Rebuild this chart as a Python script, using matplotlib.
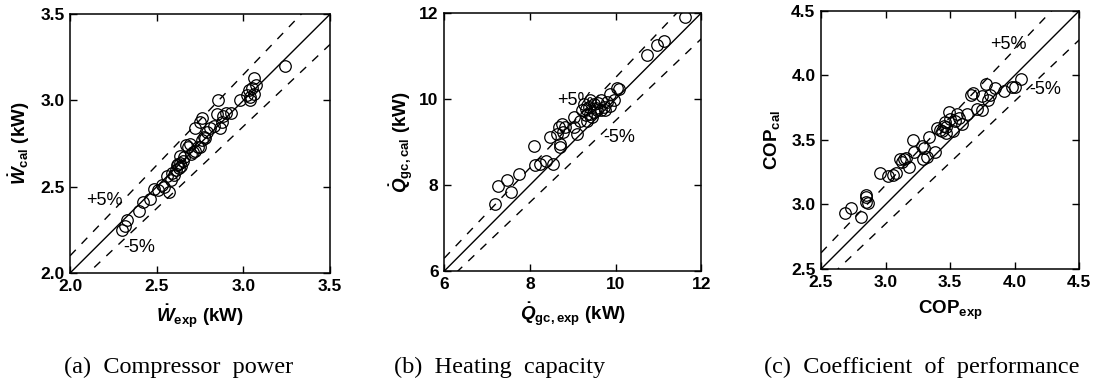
import matplotlib as mpl
mpl.use('Agg')
import matplotlib.pyplot as plt

plt.rcParams['font.family'] = ['Liberation Sans', 'DejaVu Sans']
plt.rcParams['mathtext.fontset'] = 'custom'
plt.rcParams['mathtext.rm'] = 'Liberation Sans:bold'
plt.rcParams['mathtext.it'] = 'Liberation Sans:bold:italic'
plt.rcParams['mathtext.bf'] = 'Liberation Sans:bold'

# (a) compressor power, kW
w_exp = [2.30, 2.32, 2.33, 2.40, 2.42, 2.46, 2.485, 2.51, 2.53, 2.54, 2.57,
         2.56, 2.58, 2.59, 2.60, 2.61, 2.615, 2.63, 2.635, 2.635, 2.65, 2.66,
         2.67, 2.68, 2.69, 2.70, 2.71, 2.72, 2.74, 2.75, 2.76, 2.76, 2.77,
         2.75, 2.79, 2.81, 2.83, 2.855, 2.846, 2.875, 2.865, 2.885, 2.90,
         2.93, 2.98, 3.02, 3.03, 3.04, 3.05, 3.06, 3.07, 3.06, 3.04, 3.24,
         2.62, 2.64, 2.72, 2.78]
w_cal = [2.25, 2.27, 2.305, 2.36, 2.41, 2.43, 2.49, 2.48, 2.51, 2.50, 2.47,
         2.56, 2.54, 2.58, 2.57, 2.60, 2.625, 2.61, 2.635, 2.68, 2.65, 2.67,
         2.74, 2.73, 2.745, 2.69, 2.70, 2.84, 2.73, 2.875, 2.77, 2.90, 2.79,
         2.73, 2.82, 2.84, 2.85, 3.00, 2.92, 2.875, 2.84, 2.91, 2.925,
         2.925, 3.00, 3.03, 3.06, 3.02, 3.07, 3.13, 3.09, 3.04, 3.00, 3.20,
         2.63, 2.62, 2.71, 2.78]

# (b) heating capacity, kW
q_exp = [7.19, 7.25, 7.47, 7.55, 7.74, 8.09, 8.11, 8.24, 8.38, 8.54, 8.48,
         8.63, 8.67, 8.75, 8.70, 8.71, 8.78, 8.83, 9.02, 9.09, 9.04, 9.18,
         9.22, 9.30, 9.37, 9.41, 9.49, 9.57, 9.65, 9.73, 9.80, 9.88, 9.96,
         9.88, 10.04, 10.08, 9.34, 9.45, 9.65, 9.76, 9.26, 9.41, 9.55, 9.60,
         9.30, 9.50, 10.74, 10.96, 11.12, 11.61]
q_cal = [7.55, 7.97, 8.11, 7.84, 8.26, 8.92, 8.46, 8.50, 8.57, 8.50, 9.12,
         9.19, 9.35, 9.41, 8.95, 8.88, 9.23, 9.35, 9.58, 9.19, 9.35, 9.50,
         9.74, 9.62, 9.82, 9.66, 9.89, 9.74, 9.97, 9.81, 9.93, 9.85, 9.97,
         10.12, 10.26, 10.24, 9.50, 9.58, 9.74, 9.74, 9.89, 9.97, 9.80, 9.90,
         9.78, 9.70, 11.02, 11.25, 11.36, 11.91]

# (c) coefficient of performance
cop_exp = [2.686, 2.73, 2.81, 2.85, 2.85, 2.86, 2.85, 2.96, 3.02, 3.06, 3.08,
           3.11, 3.13, 3.14, 3.16, 3.18, 3.21, 3.22, 3.28, 3.30, 3.29, 3.32,
           3.34, 3.38, 3.40, 3.42, 3.45, 3.47, 3.49, 3.46, 3.50, 3.52, 3.54,
           3.55, 3.57, 3.59, 3.63, 3.66, 3.68, 3.71, 3.75, 3.78, 3.75, 3.79,
           3.85, 3.81, 3.92, 3.98, 4.00, 4.05, 3.47, 3.44]
cop_cal = [2.934, 2.97, 2.90, 3.06, 3.02, 3.01, 3.07, 3.24, 3.22, 3.23, 3.24,
           3.35, 3.33, 3.35, 3.36, 3.29, 3.50, 3.41, 3.45, 3.44, 3.35, 3.37,
           3.52, 3.41, 3.59, 3.58, 3.61, 3.60, 3.72, 3.64, 3.66, 3.57, 3.65,
           3.70, 3.67, 3.62, 3.70, 3.85, 3.86, 3.74, 3.73, 3.93, 3.84, 3.81,
           3.90, 3.85, 3.88, 3.91, 3.91, 3.97, 3.55, 3.57]

panels = [
    dict(x=w_exp, y=w_cal, lim=(2.0, 3.5), ticks=[2.0, 2.5, 3.0, 3.5], fmt='%.1f',
         xlabel=r'$\dot{W}_{\mathrm{exp}}$ (kW)', ylabel=r'$\dot{W}_{\mathrm{cal}}$ (kW)',
         plus=(2.20, 2.42), minus=(2.40, 2.15), caption='(a)  Compressor  power',
         rect=[0.064, 0.287, 0.2377, 0.676], ylx=-0.146, capx=0.163),
    dict(x=q_exp, y=q_cal, lim=(6, 12), ticks=[6, 8, 10, 12], fmt='%d',
         xlabel=r'$\dot{Q}_{\mathrm{gc,exp}}$ (kW)', ylabel=r'$\dot{Q}_{\mathrm{gc,cal}}$ (kW)',
         plus=(9.06, 9.97), minus=(10.08, 9.10), caption='(b)  Heating  capacity',
         rect=[0.406, 0.292, 0.235, 0.674], ylx=-0.113, capx=0.457),
    dict(x=cop_exp, y=cop_cal, lim=(2.5, 4.5), ticks=[2.5, 3.0, 3.5, 4.0, 4.5], fmt='%.1f',
         xlabel=r'$\mathrm{COP}_{\mathrm{exp}}$', ylabel=r'$\mathrm{COP}_{\mathrm{cal}}$',
         plus=(3.95, 4.24), minus=(4.24, 3.89), caption='(c)  Coefficient  of  performance',
         rect=[0.7505, 0.2977, 0.236, 0.674], ylx=-0.151, capx=0.843),
]

fig = plt.figure(figsize=(10.94, 3.83), dpi=100)

for p in panels:
    ax = fig.add_axes(p['rect'])
    lo, hi = p['lim']
    ax.plot(p['x'], p['y'], 'o', mfc='none', mec='black', ms=8.3, mew=0.9)

    # 1:1 line and +-5 % bands
    ax.plot([lo, hi], [lo, hi], color='black', lw=1.0)
    ax.plot([lo, hi], [1.05 * lo, 1.05 * hi], color='black', lw=1.0, ls=(0, (6, 6)))
    ax.plot([lo, hi], [0.95 * lo, 0.95 * hi], color='black', lw=1.0, ls=(0, (6, 6)))

    ax.text(p['plus'][0], p['plus'][1], '+5%', fontsize=13, ha='center', va='center')
    ax.text(p['minus'][0], p['minus'][1], '-5%', fontsize=13, ha='center', va='center')

    ax.set_xlim(lo, hi)
    ax.set_ylim(lo, hi)
    ax.set_xticks(p['ticks'])
    ax.set_yticks(p['ticks'])
    ax.set_xticklabels([p['fmt'] % t for t in p['ticks']], fontweight='bold', fontsize=12.5)
    ax.set_yticklabels([p['fmt'] % t for t in p['ticks']], fontweight='bold', fontsize=12.5)
    ax.tick_params(direction='in', length=5, width=1, top=True, right=True, pad=4)
    for s in ax.spines.values():
        s.set_linewidth(1.1)

    ax.set_xlabel(p['xlabel'], fontsize=13.5, fontweight='bold')
    ax.xaxis.set_label_coords(0.5, -0.115)
    ax.set_ylabel(p['ylabel'], fontsize=13.5, fontweight='bold')
    ax.yaxis.set_label_coords(p['ylx'], 0.5)

    fig.text(p['capx'], 0.042, p['caption'], ha='center', va='center',
             fontsize=17.5, family='Liberation Serif')

fig.savefig('out.png', dpi=100)
